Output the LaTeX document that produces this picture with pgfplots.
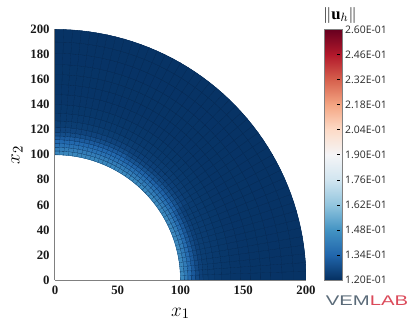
\documentclass[border=0pt]{standalone}
\usepackage{fontspec}
\setmainfont{Liberation Serif}
\newfontfamily\cb{Open Sans}
\newfontfamily\logo{Liberation Sans}
\usepackage{pgfplots}
\usepackage{pgfplotstable}
\pgfplotsset{compat=1.18}
\definecolor{meshc}{HTML}{06264C}
\pgfplotsset{colormap={rdbu}{rgb255=(5,48,97) rgb255=(33,102,172) rgb255=(67,147,195) rgb255=(146,197,222) rgb255=(209,229,240) rgb255=(245,245,247) rgb255=(253,219,199) rgb255=(244,165,130) rgb255=(214,96,77) rgb255=(178,24,43) rgb255=(103,0,31)}}
\pgfplotstableread{
s r u
0 100 .147
0 103 .143
0 106 .138
0 109 .133
0 112 .128
0 115 .125
0 118 .1235
0 122 .123
0 127 .1225
0 133 .122
0 140 .1215
0 148 .1212
0 156 .121
0 164 .121
0 172 .121
0 181 .1208
0 190 .1208
0 200 .1208
1 100 .147
1 103 .143
1 106 .138
1 109 .133
1 112 .128
1 115 .125
1 118 .1235
1 122 .123
1 127 .1225
1 133 .122
1 140 .1215
1 148 .1212
1 156 .121
1 164 .121
1 172 .121
1 181 .1208
1 190 .1208
1 200 .1208
}\ringA
\pgfplotstableread{
s r u
0 100 .146
0 103 .143
0 106 .139
0 109 .135
0 112 .131
0 115 .127
0 118 .125
0 122 .1235
0 127 .1225
0 133 .122
0 140 .1215
0 148 .1212
0 156 .121
0 164 .121
0 172 .121
0 181 .1208
0 190 .1208
0 200 .1208
1 100 .146
1 103 .143
1 106 .139
1 109 .135
1 112 .131
1 115 .127
1 118 .125
1 122 .1235
1 127 .1225
1 133 .122
1 140 .1215
1 148 .1212
1 156 .121
1 164 .121
1 172 .121
1 181 .1208
1 190 .1208
1 200 .1208
}\ringB
\pgfplotstableread{
s r u
0 100 .145
0 103 .143
0 106 .139
0 109 .136
0 112 .133
0 115 .129
0 118 .126
0 122 .124
0 127 .1225
0 133 .122
0 140 .1215
0 148 .1212
0 156 .121
0 164 .121
0 172 .121
0 181 .1208
0 190 .1208
0 200 .1208
1 100 .145
1 103 .143
1 106 .139
1 109 .136
1 112 .133
1 115 .129
1 118 .126
1 122 .124
1 127 .1225
1 133 .122
1 140 .1215
1 148 .1212
1 156 .121
1 164 .121
1 172 .121
1 181 .1208
1 190 .1208
1 200 .1208
}\ringC
\pgfplotsset{sector/.style={surf, shader=faceted, faceted color=meshc, line width=.07pt, mesh/cols=18, point meta=explicit, forget plot},
underlay/.style={surf, shader=flat, mesh/cols=18, point meta=explicit, forget plot}}
\begin{document}
\begin{tikzpicture}
\path[use as bounding box] (-41.25pt,-37.5pt) rectangle (264pt,210pt);
\begin{axis}[
  scale only axis, width=188.25pt, height=187.9pt,
  view={0}{90},
  xmin=0,xmax=200,ymin=0,ymax=200,
  axis x line*=bottom, axis y line*=left, axis z line=none,
  axis line style={draw=gray,line width=.75pt},
  xtick={0,50,100,150,200},
  ytick={0,20,40,60,80,100,120,140,160,180,200},
  ztick=\empty,
  major tick length=0pt,
  tick label style={font=\fontsize{9.6}{11}\selectfont\bfseries,text=black!90},
  /pgf/number format/assume math mode=true,
  xticklabel style={yshift=-1pt},
  yticklabel style={xshift=-.5pt},
  xlabel={$x_1$}, ylabel={$x_2$},
  xlabel style={font=\fontsize{15}{17}\selectfont,at={(axis description cs:.5,0)},anchor=center,yshift=-25pt},
  ylabel style={font=\fontsize{15}{17}\selectfont,at={(axis description cs:0,.5)},anchor=center,yshift=28.5pt},
  colormap name=rdbu,
  point meta min=.12, point meta max=.26,
  colorbar,
  colorbar style={
    scale only axis, width=13.5pt, height=187.9pt,
    at={(1.0737,0)}, anchor=south west,
    ytick={.12,.134,.148,.162,.176,.19,.204,.218,.232,.246,.26},
    yticklabels={1.20E-01,1.34E-01,1.48E-01,1.62E-01,1.76E-01,1.90E-01,2.04E-01,2.18E-01,2.32E-01,2.46E-01,2.60E-01},
    yticklabel style={font=\cb\fontsize{7.8}{9}\selectfont,text=black!85,xshift=-1.5pt},
    major tick length=2pt,
    ytick pos=right,
    axis line style={draw=gray,line width=.6pt},
    tick style={draw=black,line width=.4pt},
    y tick style={xshift=-2pt},
  },
]
\pgfplotsinvokeforeach{0,2,...,28}{
\addplot3[underlay] table[x expr=\thisrow{r}*cos(#1+2*\thisrow{s}), y expr=\thisrow{r}*sin(#1+2*\thisrow{s}), z expr=0, meta=u] {\ringA};
\addplot3[sector] table[x expr=\thisrow{r}*cos(#1+2*\thisrow{s}), y expr=\thisrow{r}*sin(#1+2*\thisrow{s}), z expr=0, meta=u] {\ringA};
}
\pgfplotsinvokeforeach{30,32,...,58}{
\addplot3[underlay] table[x expr=\thisrow{r}*cos(#1+2*\thisrow{s}), y expr=\thisrow{r}*sin(#1+2*\thisrow{s}), z expr=0, meta=u] {\ringB};
\addplot3[sector] table[x expr=\thisrow{r}*cos(#1+2*\thisrow{s}), y expr=\thisrow{r}*sin(#1+2*\thisrow{s}), z expr=0, meta=u] {\ringB};
}
\pgfplotsinvokeforeach{60,62,...,88}{
\addplot3[underlay] table[x expr=\thisrow{r}*cos(#1+2*\thisrow{s}), y expr=\thisrow{r}*sin(#1+2*\thisrow{s}), z expr=0, meta=u] {\ringC};
\addplot3[sector] table[x expr=\thisrow{r}*cos(#1+2*\thisrow{s}), y expr=\thisrow{r}*sin(#1+2*\thisrow{s}), z expr=0, meta=u] {\ringC};
}
\end{axis}
\node[font=\fontsize{12.5}{14}\selectfont] at (213.75pt,198.75pt) {$\|\mathbf{u}_h\|$};
\node[font=\logo\fontsize{10.5}{12}\selectfont, xscale=1.45] at (234pt,-15.75pt) {\textcolor[HTML]{5A6A78}{VEM}\textcolor[HTML]{DB4A5A}{LAB}};
\end{tikzpicture}
\end{document}
